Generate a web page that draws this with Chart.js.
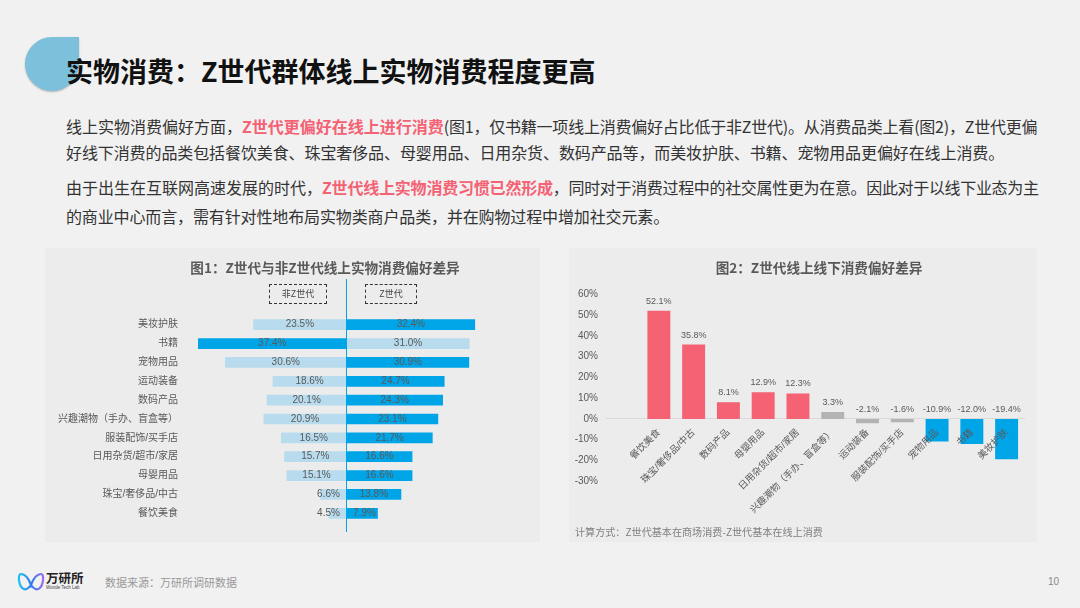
<!DOCTYPE html>
<html>
<head>
<meta charset="utf-8">
<script src="https://cdn.jsdelivr.net/npm/chart.js@4"></script>
<style>
  html, body { margin: 0; padding: 0; }
  body { width: 1080px; height: 608px; background: #f1f1f1; position: relative; overflow: hidden;
         font-family: "Noto Sans CJK SC", sans-serif; }
  .abs { position: absolute; white-space: nowrap; }
  .drop { left: 25px; top: 37px; width: 54px; height: 54px; background: #7cc0dc;
          border-radius: 50% 0 50% 50%; box-shadow: 0 1px 2px rgba(0,0,0,0.25); }
  .title { left: 66px; top: 51px; font-size: 27px; line-height: 40px; font-weight: 700; color: #111; }
  .line { left: 66px; font-size: 16px; line-height: 24px; color: #333; }
  .line b { color: #f46274; font-weight: 700; }
  .panel { background: #ececec; top: 248px; height: 294px; }
  .panel canvas { position: absolute; left: 0; top: 0; }
  .ptitle { font-size: 13.6px; line-height: 18px; font-weight: 700; color: #595959; transform: translateX(-50%); }
  .dash { border: 1px dashed #333; box-sizing: border-box; height: 20px; top: 284px; font-size: 9px;
          line-height: 18px; text-align: center; color: #444; }
  .note { left: 575px; top: 525px; font-size: 10.1px; line-height: 14px; color: #7f7f7f; }
  .src { left: 105px; top: 574px; font-size: 11px; line-height: 16px; color: #999; }
  .page { left: 1048px; top: 575px; font-size: 10px; line-height: 14px; color: #888; font-family: "Liberation Sans"; }
  .logo1 { left: 46px; top: 570px; font-size: 12.5px; line-height: 16px; font-weight: 700; color: #222; }
  .logo2 { left: 46px; top: 585px; font-size: 4.5px; line-height: 6px; color: #444; font-family: "Liberation Sans"; }
</style>
</head>
<body>
  <div class="abs drop"></div>
  <div class="abs title">实物消费：Z世代群体线上实物消费程度更高</div>

  <div class="abs line" style="top:114px">线上实物消费偏好方面，<b>Z世代更偏好在线上进行消费</b><span style="letter-spacing:-0.22px">(图1，仅书籍一项线上消费偏好占比低于非Z世代)。从消费品类上看(图2)，Z世代更偏</span></div>
  <div class="abs line" style="top:140px;letter-spacing:-0.1px">好线下消费的品类包括餐饮美食、珠宝奢侈品、母婴用品、日用杂货、数码产品等，而美妆护肤、书籍、宠物用品更偏好在线上消费。</div>
  <div class="abs line" style="top:175px">由于出生在互联网高速发展的时代，<b style="letter-spacing:-0.2px">Z世代线上实物消费习惯已然形成</b><span style="letter-spacing:-0.33px">，同时对于消费过程中的社交属性更为在意。因此对于以线下业态为主</span></div>
  <div class="abs line" style="top:204px;letter-spacing:-0.13px">的商业中心而言，需有针对性地布局实物类商户品类，并在购物过程中增加社交元素。</div>

  <div class="abs panel" style="left:45px;width:495px"><canvas id="barChart1" width="495" height="294" style="width:495px;height:294px"></canvas></div>
  <div class="abs panel" style="left:569px;width:468px"><canvas id="barChart2" width="468" height="294" style="width:468px;height:294px"></canvas></div>

  <div class="abs ptitle" style="left:325px;top:258px">图1：Z世代与非Z世代线上实物消费偏好差异</div>
  <div class="abs ptitle" style="left:819px;top:258px">图2：Z世代线上线下消费偏好差异</div>
  <div class="abs dash" style="left:269px;width:58px">非Z世代</div>
  <div class="abs dash" style="left:365px;width:52px">Z世代</div>
  <div class="abs note">计算方式：Z世代基本在商场消费-Z世代基本在线上消费</div>

  <svg class="abs" style="left:17px;top:572px" width="28" height="20" viewBox="0 0 28 20">
    <defs><linearGradient id="lg" x1="0" x2="1" y1="0" y2="0">
      <stop offset="0" stop-color="#19c3f2"/><stop offset="0.5" stop-color="#2f7cf0"/><stop offset="1" stop-color="#9a6cf0"/>
    </linearGradient></defs>
    <path d="M14 13 C11 5 7 2 4 2 C1.5 2 1.5 7 2.5 11 C3.5 16 7 18 9.5 17 C12 16 14 13 14 13 C14 13 16 16 18.5 17 C21 18 24.5 16 25.5 11 C26.5 7 26.5 2 24 2 C21 2 17 5 14 13 Z" fill="none" stroke="url(#lg)" stroke-width="2.2"/>
  </svg>
  <div class="abs logo1">万研所</div>
  <div class="abs logo2">Wonde Tech Lab</div>
  <div class="abs src">数据来源：万研所调研数据</div>
  <div class="abs page">10</div>

<script>
// Shared settings -------------------------------------------------------

const latin = '"Liberation Sans", "Noto Sans CJK SC", sans-serif';
const textColor = '#595959';
const darkBlue = '#00a5e8';
const lightBlue = '#b8dcee';
const pink = '#f46274';
const grey = '#b3b3b3';

Chart.defaults.animation = false;
Chart.defaults.responsive = false;
Chart.defaults.font.family = latin;
Chart.defaults.color = textColor;

// 1st chart -------------------------------------------------------------------------

// [category, non Z generation %, Z generation %]
const prefs = [
  ['美妆护肤', 23.5, 32.4],
  ['书籍', 37.4, 31.0],
  ['宠物用品', 30.6, 30.9],
  ['运动装备', 18.6, 24.7],
  ['数码产品', 20.1, 24.3],
  ['兴趣潮物（手办、盲盒等）', 20.9, 23.1],
  ['服装配饰/买手店', 16.5, 21.7],
  ['日用杂货/超市/家居', 15.7, 16.6],
  ['母婴用品', 15.1, 16.6],
  ['珠宝/奢侈品/中古', 6.6, 13.8],
  ['餐饮美食', 4.5, 7.9]
];

// the bigger side of each row is the dark one
const sideColor = (mine, other) => mine > other ? darkBlue : lightBlue;

// centre line and the values written on the bars
const butterflyPlugin = {
  id: 'butterfly',
  afterDatasetsDraw(chart) {
    const ctx = chart.ctx;
    const zero = chart.scales.x.getPixelForValue(0);
    ctx.save();
    ctx.strokeStyle = darkBlue;
    ctx.lineWidth = 1;
    ctx.beginPath();
    ctx.moveTo(zero, 31);
    ctx.lineTo(zero, 284);
    ctx.stroke();

    ctx.font = '10px ' + latin;
    ctx.fillStyle = textColor;
    ctx.textAlign = 'center';
    ctx.textBaseline = 'middle';
    chart.data.datasets.forEach((ds, i) => {
      chart.getDatasetMeta(i).data.forEach((bar, j) => {
        let x = (bar.x + zero) / 2;
        // short bars push the label away from the centre line
        x = i === 0 ? Math.min(x, zero - 18) : Math.max(x, zero + 18);
        ctx.fillText(Math.abs(ds.data[j]).toFixed(1) + '%', x, bar.y);
      });
    });
    ctx.restore();
  }
};

const config1 = {
  type: 'bar',
  data: {
    labels: prefs.map(r => r[0]),
    datasets: [
      {
        label: '非Z世代',
        data: prefs.map(r => -r[1]),
        backgroundColor: prefs.map(r => sideColor(r[1], r[2]))
      },
      {
        label: 'Z世代',
        data: prefs.map(r => r[2]),
        backgroundColor: prefs.map(r => sideColor(r[2], r[1]))
      }
    ]
  },
  options: {
    indexAxis: 'y',
    categoryPercentage: 1,
    barPercentage: 0.57,
    layout: { padding: { top: 67.3, bottom: 19.3, right: 34.7 } },
    plugins: { legend: { display: false }, tooltip: { enabled: false } },
    scales: {
      x: { stacked: true, display: false, min: -40, max: 40 },
      y: {
        stacked: true,
        grid: { display: false, drawTicks: false },
        border: { display: false },
        ticks: { padding: 9.7, font: { size: 10 }, autoSkip: false },
        afterFit(scale) { scale.width = 142.7; }
      }
    }
  },
  plugins: [butterflyPlugin]
};

const barChart1 = new Chart(document.getElementById('barChart1'), config1);

// 2nd chart -------------------------------------------------------------------------

// Z generation offline minus online, the first slot is empty in the original
const gaps = [
  ['', null, null],
  ['餐饮美食', 52.1, pink],
  ['珠宝/奢侈品/中古', 35.8, pink],
  ['数码产品', 8.1, pink],
  ['母婴用品', 12.9, pink],
  ['日用杂货/超市/家居', 12.3, pink],
  ['兴趣潮物（手办、盲盒等）', 3.3, grey],
  ['运动装备', -2.1, grey],
  ['服装配饰/买手店', -1.6, grey],
  ['宠物用品', -10.9, darkBlue],
  ['书籍', -12.0, darkBlue],
  ['美妆护肤', -19.4, darkBlue]
];

// values above the bars, negative ones sit above the zero line
const gapLabelPlugin = {
  id: 'gapLabels',
  afterDatasetsDraw(chart) {
    const ctx = chart.ctx;
    const zero = chart.scales.y.getPixelForValue(0);
    ctx.save();
    ctx.font = '9px ' + latin;
    ctx.fillStyle = textColor;
    ctx.textAlign = 'center';
    ctx.textBaseline = 'middle';
    chart.getDatasetMeta(0).data.forEach((bar, j) => {
      const v = chart.data.datasets[0].data[j];
      if (v === null) return;
      ctx.fillText(v.toFixed(1) + '%', bar.x, Math.min(bar.y, zero) - 9.5);
    });
    ctx.restore();
  }
};

const config2 = {
  type: 'bar',
  data: {
    labels: gaps.map(r => r[0]),
    datasets: [{
      label: '线上线下消费偏好差异',
      data: gaps.map(r => r[1]),
      backgroundColor: gaps.map(r => r[2])
    }]
  },
  options: {
    categoryPercentage: 1,
    barPercentage: 0.66,
    layout: { padding: { top: 46.3, bottom: 60.7, right: 13 } },
    plugins: { legend: { display: false }, tooltip: { enabled: false } },
    scales: {
      x: {
        position: { y: 0 },
        grid: { display: false, drawTicks: false },
        border: { color: '#d9d9d9' },
        ticks: { z: 1, minRotation: 45, maxRotation: 45, autoSkip: false, padding: 8, font: { size: 9.5 } }
      },
      y: {
        min: -30,
        max: 60,
        grid: { display: false, drawTicks: false },
        border: { display: false },
        ticks: { stepSize: 10, padding: 8.7, font: { size: 10 }, callback: v => v + '%' },
        afterFit(scale) { scale.width = 37.7; }
      }
    }
  },
  plugins: [gapLabelPlugin]
};

const barChart2 = new Chart(document.getElementById('barChart2'), config2);
</script>
</body>
</html>
